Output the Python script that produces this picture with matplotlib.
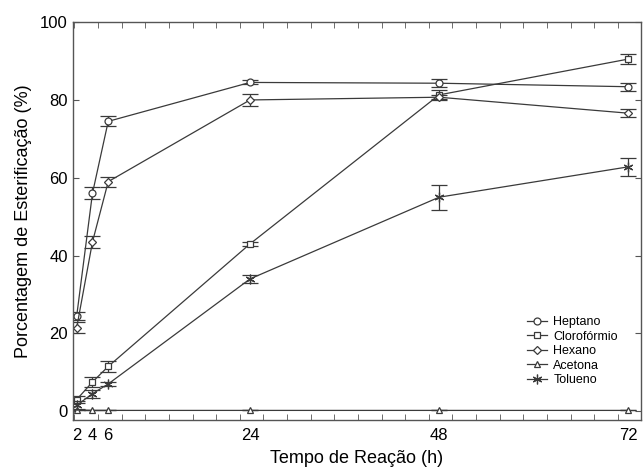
import matplotlib.pyplot as plt
import numpy as np
from matplotlib.ticker import MultipleLocator, FixedLocator

plt.rcParams['font.family'] = ['Liberation Sans', 'DejaVu Sans']

# Data
tempo = [2, 4, 6, 24, 48, 72]

heptano = [24.5, 56.0, 74.5, 84.5, 84.3, 83.4]
heptano_err = [1.0, 1.5, 1.3, 0.5, 1.0, 1.0]

cloroformio = [3.0, 7.5, 11.5, 43.0, 81.3, 90.5]
cloroformio_err = [1.0, 1.2, 1.5, 0.5, 1.2, 1.2]

hexano = [21.5, 43.5, 59.0, 80.0, 80.7, 76.6]
hexano_err = [1.5, 1.5, 1.3, 1.5, 0.5, 1.0]

acetona = [0.3, 0.2, 0.2, 0.2, 0.2, 0.2]
acetona_err = [0, 0, 0, 0, 0, 0]

tolueno = [1.5, 4.5, 7.0, 34.0, 55.0, 62.8]
tolueno_err = [1.0, 1.0, 0.5, 1.0, 3.2, 2.3]

labels = ['Heptano', 'Clorofórmio', 'Hexano', 'Acetona', 'Tolueno']
markers = ['o', 's', 'D', '^', (6, 2, 0)]
sizes = [5, 5, 4, 5, 7]

fig = plt.figure(figsize=(6.44, 4.71), dpi=100)
ax = fig.add_axes([0.113, 0.108, 0.882, 0.845])

series = [(heptano, heptano_err), (cloroformio, cloroformio_err), (hexano, hexano_err),
          (acetona, acetona_err), (tolueno, tolueno_err)]

line_col = '#3a3a3a'
for (vals, errs), lab, m, s in zip(series, labels, markers, sizes):
    ax.errorbar(tempo, vals, yerr=errs, fmt='none', ecolor=line_col, elinewidth=0.9,
                capsize=6, capthick=0.9)
    ax.plot(tempo, vals, marker=m, ms=s, mfc='white', mec=line_col, mew=0.9,
            color=line_col, lw=0.9, label=lab)

ax.set_xlim(1.5, 73.6)
ax.set_ylim(-2.3, 100)
ax.set_xticks([2, 4, 6, 24, 48, 72])
ax.xaxis.set_minor_locator(FixedLocator(np.arange(1.7, 73.6, 3)))
ax.yaxis.set_major_locator(MultipleLocator(20))
ax.tick_params(which='both', direction='in', top=True, right=True, labelsize=12,
               color='#555555')
ax.tick_params(which='both', length=4)
ax.tick_params(axis='x', which='major', length=0, pad=6)
for sp in ax.spines.values():
    sp.set_color('#555555')
    sp.set_linewidth(1.0)

ax.set_xlabel('Tempo de Reação (h)', fontsize=13, labelpad=5)
ax.set_ylabel('Porcentagem de Esterificação (%)', fontsize=13, labelpad=6)

ax.legend(loc='lower left', bbox_to_anchor=(0.80, 0.085), frameon=False, fontsize=9,
          handlelength=1.6, labelspacing=0.2, handletextpad=0.5,
          borderaxespad=0, borderpad=0)

plt.savefig('out.png', dpi=100)
